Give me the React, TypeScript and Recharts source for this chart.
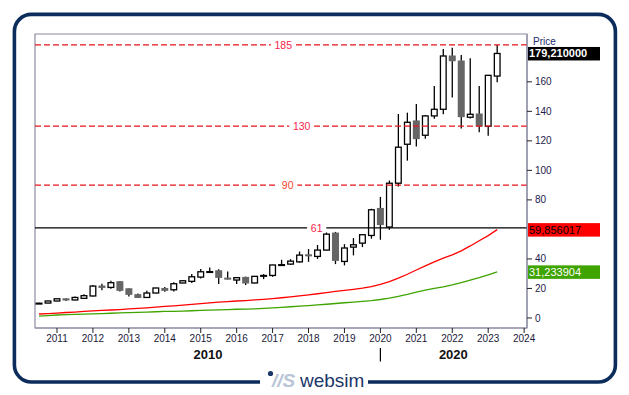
import React from "react";
import {
  ComposedChart,
  Bar,
  Line,
  XAxis,
  YAxis,
  ReferenceLine,
  ReferenceArea,
} from "recharts";

// ---------- data ----------
const quarters = [
  2010.5, 2010.75,
  2011, 2011.25, 2011.5, 2011.75,
  2012, 2012.25, 2012.5, 2012.75,
  2013, 2013.25, 2013.5, 2013.75,
  2014, 2014.25, 2014.5, 2014.75,
  2015, 2015.25, 2015.5, 2015.75,
  2016, 2016.25, 2016.5, 2016.75,
  2017, 2017.25, 2017.5, 2017.75,
  2018, 2018.25, 2018.5, 2018.75,
  2019, 2019.25, 2019.5, 2019.75,
  2020, 2020.25, 2020.5, 2020.75,
  2021, 2021.25, 2021.5, 2021.75,
  2022, 2022.25, 2022.5, 2022.75,
  2023, 2023.25,
];

const opens = [
  9.8, 10.1, 11.5, 13.0, 12.2, 13.3, 14.9, 21.6, 20.7, 24.6, 19.8, 15.8, 13.9,
  16.9, 20.0, 19.1, 23.7, 24.8, 27.7, 31.2, 32.0, 27.0, 25.7, 27.5, 23.7, 28.4,
  28.8, 35.8, 36.5, 38.0, 42.8, 41.7, 46.0, 57.5, 38.3, 48.0, 50.7, 55.9, 74.2,
  61.6, 91.3, 117.7, 133.5, 123.8, 136.9, 141.4, 177.5, 174.1, 136.0, 138.2,
  129.9, 163.9,
];
const highs = [
  10.3, 11.6, 13.2, 13.2, 14.6, 16.0, 22.3, 23.2, 25.2, 24.8, 20.0, 16.6, 18.5,
  20.5, 21.0, 24.2, 25.8, 29.8, 33.1, 34.2, 33.0, 31.5, 27.8, 28.0, 28.4, 29.7,
  36.0, 39.4, 39.8, 45.0, 46.7, 49.4, 57.9, 58.3, 50.0, 54.1, 56.6, 74.0, 82.0,
  93.1, 138.2, 139.1, 145.0, 137.5, 157.2, 182.2, 183.1, 178.1, 175.9, 157.2,
  164.4, 184.9,
];
const lows = [
  9.5, 10.0, 11.4, 11.5, 12.0, 13.1, 14.5, 18.7, 19.8, 18.0, 14.6, 13.6, 13.7,
  16.7, 17.8, 18.0, 23.5, 23.7, 26.8, 31.0, 23.0, 26.0, 23.0, 22.3, 23.5, 26.3,
  27.9, 35.4, 35.9, 37.5, 38.0, 40.0, 45.8, 36.5, 35.6, 42.4, 48.0, 53.7, 53.0,
  59.7, 89.0, 106.6, 116.1, 121.5, 135.0, 138.0, 149.3, 128.3, 135.1, 125.8,
  123.5, 159.7,
];
const closes = [
  10.0, 11.5, 13.0, 12.2, 13.9, 15.1, 21.6, 20.7, 23.9, 18.7, 16.0, 13.9, 16.9,
  20.3, 18.7, 23.2, 25.2, 27.9, 31.3, 31.4, 27.5, 26.3, 27.3, 23.7, 28.2, 28.8,
  35.9, 36.1, 38.5, 42.6, 42.1, 46.0, 56.8, 39.0, 47.4, 49.6, 56.4, 73.3, 63.3,
  91.3, 115.7, 132.6, 121.5, 136.9, 141.4, 177.5, 174.3, 136.4, 138.0, 129.9,
  164.4, 179.21,
];

const redMA = [
  2.7, 3.0, 3.3, 3.7, 4.0, 4.4, 4.8, 5.1, 5.4, 5.7, 6.1, 6.5, 6.9, 7.3, 7.8,
  8.2, 8.7, 9.2, 9.7, 10.2, 10.7, 11.1, 11.5, 11.8, 12.2, 12.6, 13.1, 13.7,
  14.3, 15.0, 15.7, 16.4, 17.2, 18.0, 18.7, 19.4, 20.2, 21.2, 22.8, 24.6, 27.0,
  29.6, 32.5, 35.3, 38.0, 40.6, 42.7, 45.5, 48.8, 52.3, 55.8, 59.856017,
];
const greenMA = [
  1.3, 1.6, 2.0, 2.2, 2.4, 2.6, 2.8, 3.0, 3.2, 3.4, 3.6, 3.8, 4.0, 4.2, 4.4,
  4.5, 4.7, 4.9, 5.1, 5.3, 5.5, 5.7, 5.9, 6.0, 6.2, 6.5, 6.8, 7.2, 7.6, 8.0,
  8.4, 8.8, 9.3, 9.8, 10.3, 10.8, 11.3, 11.8, 12.5, 13.5, 14.7, 16.0, 17.5,
  18.8, 20.0, 21.1, 22.4, 24.0, 25.6, 27.3, 29.2, 31.233904,
];

const yearTicks = [
  2011, 2012, 2013, 2014, 2015, 2016, 2017, 2018, 2019, 2020, 2021, 2022, 2023,
  2024,
];
// 60 and 180 sit under the price tags in the reference
const priceTicks = [0, 20, 40, 80, 100, 120, 140, 160];
const decadeTicks = [2015.2, 2020, 2022.03];
const decadeLabels = ["2010", "", "2020"];
const dashedLevels = [185, 130, 90];
const dashedLabels = ["185", "130", "90"];
const supportLevel = 61;
const supportLabel = "61";

const X_DOMAIN: [number, number] = [2010.388, 2024.08];
const Y_DOMAIN: [number, number] = [-6.8, 192.4];

const data = quarters.map((t, i) => ({
  t,
  open: opens[i],
  high: highs[i],
  low: lows[i],
  close: closes[i],
  range: [lows[i], highs[i]],
  red: redMA[i],
  green: greenMA[i],
}));

const lastClose = closes[closes.length - 1];
const lastRed = redMA[redMA.length - 1];
const lastGreen = greenMA[greenMA.length - 1];
const fmt = (v: number) => v.toFixed(6).replace(".", ",");

const FONT = "'Liberation Sans', Arial, sans-serif";

// ---------- shapes ----------
function Candle(props: any) {
  const { x, y, width, height, payload } = props;
  if (x == null || y == null || !payload) return null;
  const h = Math.abs(height);
  const top = height >= 0 ? y : y + height;
  const span = payload.high - payload.low;
  const ratio = span > 0 ? h / span : 0;
  const cx = x + width / 2;
  const bTop = top + (payload.high - Math.max(payload.open, payload.close)) * ratio;
  const bBot = top + (payload.high - Math.min(payload.open, payload.close)) * ratio;
  const up = payload.close >= payload.open;
  const bh = Math.max(bBot - bTop, 0.8);
  return (
    <g>
      <line x1={cx} x2={cx} y1={top} y2={top + h} stroke="#000" strokeWidth={1.3} />
      {up ? (
        <rect
          x={x + 0.65}
          y={bTop}
          width={width - 1.3}
          height={bh}
          fill="#fff"
          stroke="#000"
          strokeWidth={1.3}
        />
      ) : (
        <rect x={x} y={bTop - 0.5} width={width} height={bh + 1} fill="#666666" />
      )}
    </g>
  );
}

function LevelLabel(props: any) {
  const { viewBox, text, cx, color } = props;
  if (!viewBox) return null;
  const y = viewBox.y;
  const w = text.length * 5.6 + 8;
  return (
    <g>
      <rect x={cx - w / 2} y={y - 3} width={w} height={6} fill="#fff" />
      <text
        x={cx}
        y={y + 3.6}
        textAnchor="middle"
        fontSize={10.5}
        fontFamily={FONT}
        fill={color}
      >
        {text}
      </text>
    </g>
  );
}

function PriceTag(props: any) {
  const { viewBox, text, bg, fg, bold } = props;
  if (!viewBox) return null;
  const x = viewBox.x + viewBox.width + 1;
  const y = viewBox.y;
  return (
    <g>
      <rect x={x} y={y - 6.5} width={72} height={13.5} fill={bg} />
      <text
        x={x + 1}
        y={y + 4}
        fontSize={11}
        fontWeight={bold ? "bold" : "normal"}
        fontFamily={FONT}
        fill={fg}
      >
        {text}
      </text>
    </g>
  );
}

function DecadeTick(props: any) {
  const { x, y, payload } = props;
  const idx = decadeTicks.indexOf(payload.value);
  const label = decadeLabels[idx];
  if (!label) {
    return <line x1={x} x2={x} y1={y} y2={y + 13.5} stroke="#000" strokeWidth={1.2} />;
  }
  return (
    <text
      x={x}
      y={y + 10.5}
      textAnchor="middle"
      fontSize={13}
      fontWeight="bold"
      fontFamily={FONT}
      fill="#111"
    >
      {label}
    </text>
  );
}

const levelColors = ["#f5254a", "#f5254a", "#f0452c"];
const levelX = [283.3, 301.7, 287.7];

export default function App() {
  return (
    <div
      style={{
        position: "absolute",
        left: 0,
        top: 0,
        width: 629,
        height: 395,
        background: "#fff",
        fontFamily: FONT,
      }}
    >
      <ComposedChart
        width={629}
        height={395}
        data={data}
        margin={{ top: 34, right: 42, bottom: 25, left: 35 }}
      >
        <XAxis
          dataKey="t"
          type="number"
          domain={X_DOMAIN}
          ticks={yearTicks}
          allowDataOverflow
          interval={0}
          height={20}
          tickSize={5}
          tickMargin={2}
          tick={{ fontSize: 10, fill: "#1a1a3a", fontFamily: FONT }}
          tickLine={{ stroke: "#222" }}
          axisLine={{ stroke: "#8a8aa2" }}
        />
        <XAxis
          xAxisId="dec"
          dataKey="t"
          type="number"
          domain={X_DOMAIN}
          ticks={decadeTicks}
          allowDataOverflow
          interval={0}
          height={22}
          tickSize={0}
          tickMargin={0}
          axisLine={false}
          tickLine={false}
          tick={<DecadeTick />}
        />
        <YAxis
          orientation="right"
          type="number"
          domain={Y_DOMAIN}
          ticks={priceTicks}
          allowDataOverflow
          interval={0}
          width={60}
          tickSize={5}
          tickMargin={3}
          tick={{ fontSize: 10, fill: "#1e1b4b", fontFamily: FONT }}
          tickLine={{ stroke: "#222" }}
          axisLine={{ stroke: "#8a8aa2" }}
        />
        <ReferenceArea
          x1={X_DOMAIN[0]}
          x2={X_DOMAIN[1]}
          y1={Y_DOMAIN[0]}
          y2={Y_DOMAIN[1]}
          fill="none"
          fillOpacity={0}
          stroke="#8a8aa2"
          strokeWidth={1.2}
          ifOverflow="visible"
        />
        {dashedLevels.map((v, i) => (
          <ReferenceLine
            key={v}
            y={v}
            stroke="#e8141c"
            strokeWidth={1.2}
            strokeDasharray="6 3"
            label={
              <LevelLabel text={dashedLabels[i]} cx={levelX[i]} color={levelColors[i]} />
            }
          />
        ))}
        <ReferenceLine
          y={supportLevel}
          stroke="#000"
          strokeWidth={1.3}
          label={<LevelLabel text={supportLabel} cx={316.7} color="#f5254a" />}
        />
        <Line
          xAxisId="dec"
          dataKey="green"
          type="linear"
          stroke="none"
          strokeOpacity={0}
          dot={false}
          activeDot={false}
          legendType="none"
          isAnimationActive={false}
        />
        <Line
          dataKey="red"
          type="linear"
          stroke="#ff0000"
          strokeWidth={1.3}
          dot={false}
          isAnimationActive={false}
        />
        <Line
          dataKey="green"
          type="linear"
          stroke="#3fa300"
          strokeWidth={1.3}
          dot={false}
          isAnimationActive={false}
        />
        <Bar
          dataKey="range"
          barSize={7}
          shape={<Candle />}
          isAnimationActive={false}
        />
        <ReferenceLine
          y={lastClose}
          stroke="none"
          strokeOpacity={0}
          ifOverflow="visible"
          label={<PriceTag text={fmt(lastClose)} bg="#000" fg="#fff" bold />}
        />
        <ReferenceLine
          y={lastRed}
          stroke="none"
          strokeOpacity={0}
          ifOverflow="visible"
          label={<PriceTag text={fmt(lastRed)} bg="#ff0000" fg="#000" />}
        />
        <ReferenceLine
          y={lastGreen}
          stroke="none"
          strokeOpacity={0}
          ifOverflow="visible"
          label={<PriceTag text={fmt(lastGreen)} bg="#3fa300" fg="#fff" />}
        />
      </ComposedChart>
      <svg
        width={629}
        height={395}
        style={{ position: "absolute", left: 0, top: 0, pointerEvents: "none" }}
      >
        <rect
          x={14.4}
          y={14.4}
          width={601}
          height={367.6}
          rx={17}
          ry={17}
          fill="none"
          stroke="#0c2d5c"
          strokeWidth={3.6}
        />
        <rect x={260} y={374} width={108} height={14} fill="#fff" />
        <text x={533} y={45} fontSize={10} fontFamily={FONT} fill="#1c2a6a">
          Price
        </text>
        <circle cx={270.5} cy={373.5} r={2.6} fill="#1b3668" />
        <text
          x={272}
          y={387}
          fontSize={19}
          fontStyle="italic"
          fontWeight="bold"
          fontFamily={FONT}
          fill="#b9c5d6"
        >
          //S
        </text>
        <text x={300} y={387} fontSize={19} fontFamily={FONT} fill="#1b3668">
          websim
        </text>
      </svg>
    </div>
  );
}
